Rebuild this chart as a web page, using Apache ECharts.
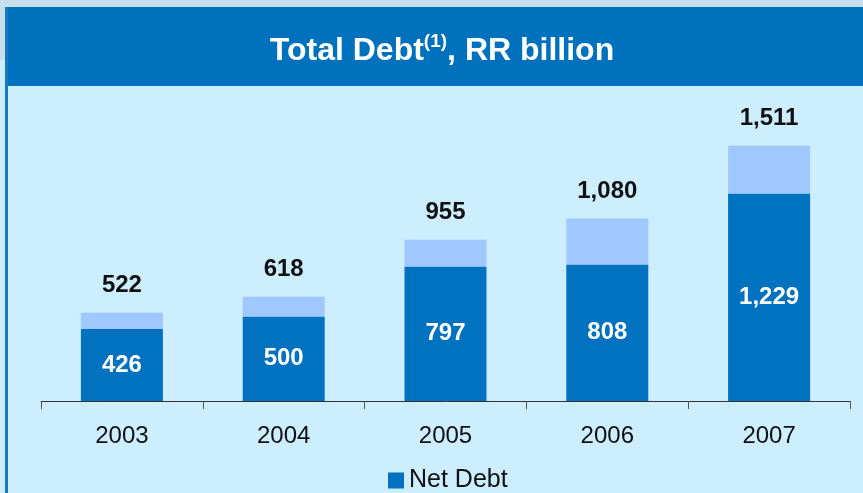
<!DOCTYPE html>
<html>
<head>
<meta charset="utf-8">
<script src="https://cdn.jsdelivr.net/npm/echarts@6/dist/echarts.min.js"></script>
<style>
html,body{margin:0;padding:0;background:#CCEEFF;}
#chart{width:863px;height:493px;}
</style>
</head>
<body>
<div id="chart"></div>
<script>
// data
var years = ['2003', '2004', '2005', '2006', '2007'];
var netDebt = [426, 500, 797, 808, 1229];
var totalDebt = [522, 618, 955, 1080, 1511];

var restDebt = [];
for (var i = 0; i < years.length; i++) {
    restDebt.push(totalDebt[i] - netDebt[i]);
}

var chart = echarts.init(document.getElementById('chart'));

var option = {
    backgroundColor: '#CCEEFF',
    animation: false,
    graphic: [
        { type: 'rect', shape: { x: 0, y: 0, width: 863, height: 7 }, style: { fill: '#C6DFEB' }, silent: true },
        { type: 'rect', shape: { x: 0, y: 7, width: 5, height: 53 }, style: { fill: '#C6DFEB' }, silent: true },
        { type: 'rect', shape: { x: 5, y: 7, width: 3, height: 486 }, style: { fill: '#1B78C2' }, silent: true },
        { type: 'rect', shape: { x: 8, y: 7, width: 855, height: 79 }, style: { fill: '#0071BC' }, silent: true }
    ],
    title: {
        text: '{a|Total Debt}{s|(1)}{a|, RR billion}',
        left: 437,
        textAlign: 'center',
        top: 27,
        textStyle: {
            rich: {
                a: { fontFamily: 'Liberation Sans, Arial', fontWeight: 'bold', fontSize: 32, color: '#fff', lineHeight: 38 },
                s: { fontFamily: 'Liberation Sans, Arial', fontWeight: 'bold', fontSize: 19, color: '#fff', verticalAlign: 'top', lineHeight: 38 }
            }
        }
    },
    legend: {
        data: ['Net Debt'],
        left: 383,
        top: 463,
        icon: 'rect',
        itemWidth: 16,
        itemHeight: 16,
        textStyle: { fontFamily: 'Liberation Sans, Arial', fontSize: 25, color: '#111' }
    },
    grid: { left: 41, right: 13, top: 97, bottom: 92 },
    xAxis: {
        type: 'category',
        data: years,
        axisLine: { show: true, lineStyle: { color: '#333', width: 1 } },
        axisTick: { show: true, alignWithLabel: false, length: 8, lineStyle: { color: '#555' } },
        axisLabel: { fontFamily: 'Liberation Sans, Arial', fontSize: 24, color: '#111', margin: 23 }
    },
    yAxis: {
        type: 'value',
        min: 0,
        max: 1800,
        show: false,
        splitLine: { show: false }
    },
    series: [
        {
            name: 'Net Debt',
            type: 'bar',
            stack: 'debt',
            barWidth: 82,
            data: netDebt,
            itemStyle: { color: '#0072BF' },
            label: {
                show: true,
                position: 'inside',
                fontFamily: 'Liberation Sans, Arial',
                fontWeight: 'bold',
                fontSize: 24,
                color: '#fff',
                formatter: function (p) { return p.value.toLocaleString('en-US'); }
            }
        },
        {
            name: 'Total Debt',
            type: 'bar',
            stack: 'debt',
            barWidth: 82,
            data: restDebt,
            itemStyle: { color: '#A0C8FC' },
            label: {
                show: true,
                position: 'top',
                distance: 15,
                fontFamily: 'Liberation Sans, Arial',
                fontWeight: 'bold',
                fontSize: 24,
                color: '#111',
                formatter: function (p) { return totalDebt[p.dataIndex].toLocaleString('en-US'); }
            }
        }
    ]
};

chart.setOption(option);
</script>
</body>
</html>
